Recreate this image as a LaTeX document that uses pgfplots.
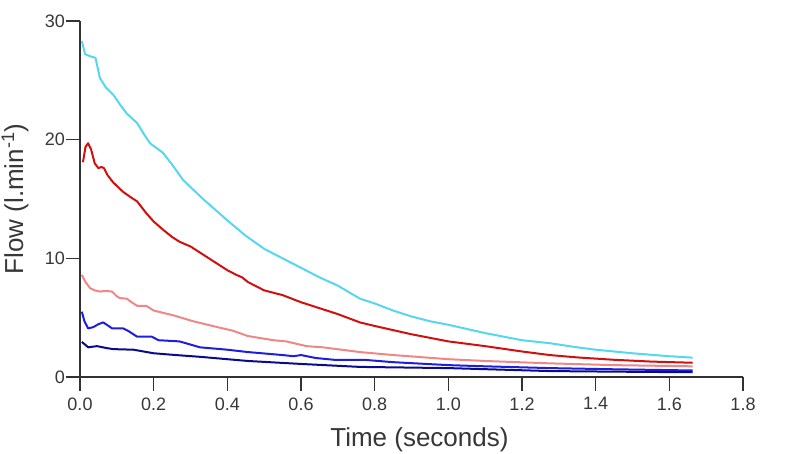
\documentclass[border=0pt]{standalone}
\usepackage{fontspec}
\setmainfont{Liberation Sans}
\usepackage{pgfplots}
\pgfplotsset{compat=1.18}
\definecolor{ccyan}{RGB}{85,215,240}
\definecolor{cred}{RGB}{210,15,15}
\definecolor{cpink}{RGB}{240,135,135}
\definecolor{cblue}{RGB}{30,30,220}
\definecolor{cnavy}{RGB}{10,10,140}
\definecolor{axgray}{RGB}{50,50,50}
\definecolor{txtgray}{RGB}{55,55,55}
\begin{document}
\begin{tikzpicture}[x=1pt,y=1pt]
\useasboundingbox (0,0) rectangle (786,454);
\begin{axis}[
  at={(80pt,77pt)}, anchor=south west,
  scale only axis, width=663pt, height=356pt,
  xmin=0, xmax=1.8, ymin=0, ymax=30,
  axis x line*=bottom, axis y line*=left,
  axis line style={draw=axgray, line width=1.4pt, -},
  tick style={draw=axgray, line width=1.4pt},
  tick align=outside, major tick length=14pt,
  xtick={0,0.2,0.4,0.6,0.8,1.0,1.2,1.4,1.6,1.8},
  ytick={0,10,20,30},
  minor tick num=0,
  /pgf/number format/assume math mode=true,
  xticklabel style={/pgf/number format/.cd, fixed, fixed zerofill, precision=1, /tikz/.cd, font=\fontsize{18}{18}\selectfont, text=txtgray, yshift=-3pt},
  yticklabel style={font=\fontsize{18}{18}\selectfont, text=txtgray, inner sep=1pt},
  xlabel={Time (seconds)},
  ylabel={Flow (l.min\textsuperscript{-1})},
  xlabel style={at={(axis description cs:0.512,-0.177)}, anchor=center, font=\fontsize{26}{26}\selectfont, text=txtgray},
  ylabel style={at={(axis description cs:-0.098,0.5)}, anchor=center, rotate=0, font=\fontsize{26}{26}\selectfont, text=txtgray},
  every axis plot/.append style={line width=2pt, line join=round},
]
\addplot[ccyan] coordinates {(0.005,28.3) (0.014,27.2) (0.03,27.0) (0.042,26.9) (0.054,25.2) (0.07,24.4) (0.09,23.8) (0.11,22.9) (0.127,22.2) (0.155,21.4) (0.175,20.4) (0.19,19.7) (0.225,18.9) (0.25,17.9) (0.28,16.6) (0.334,15.0) (0.4,13.2) (0.45,11.9) (0.5,10.8) (0.55,10.0) (0.6,9.2) (0.65,8.4) (0.7,7.7) (0.76,6.6) (0.8,6.2) (0.85,5.6) (0.9,5.1) (0.95,4.7) (1.0,4.4) (1.1,3.7) (1.2,3.1) (1.275,2.85) (1.35,2.5) (1.4,2.3) (1.5,2.0) (1.6,1.75) (1.663,1.63)};
\addplot[cred] coordinates {(0.008,18.1) (0.015,19.4) (0.022,19.7) (0.03,19.2) (0.04,18.0) (0.05,17.6) (0.058,17.7) (0.065,17.6) (0.075,17.0) (0.09,16.4) (0.117,15.6) (0.14,15.1) (0.155,14.8) (0.18,13.8) (0.2,13.1) (0.226,12.4) (0.25,11.8) (0.27,11.4) (0.3,11.0) (0.33,10.4) (0.37,9.6) (0.4,9.0) (0.425,8.6) (0.44,8.4) (0.456,8.0) (0.5,7.3) (0.55,6.9) (0.6,6.3) (0.7,5.3) (0.76,4.6) (0.8,4.3) (0.9,3.6) (1.0,3.0) (1.05,2.8) (1.1,2.6) (1.2,2.15) (1.275,1.85) (1.35,1.65) (1.45,1.45) (1.55,1.3) (1.663,1.2)};
\addplot[cpink] coordinates {(0.005,8.6) (0.015,8.0) (0.027,7.5) (0.04,7.3) (0.054,7.2) (0.07,7.25) (0.087,7.2) (0.1,6.8) (0.108,6.65) (0.127,6.6) (0.14,6.3) (0.155,6.0) (0.18,6.0) (0.2,5.6) (0.253,5.2) (0.307,4.7) (0.36,4.3) (0.415,3.9) (0.456,3.45) (0.525,3.1) (0.56,3.0) (0.615,2.6) (0.66,2.5) (0.76,2.1) (0.85,1.85) (1.0,1.5) (1.1,1.35) (1.275,1.15) (1.45,1.0) (1.663,0.9)};
\addplot[cblue] coordinates {(0.005,5.5) (0.012,4.7) (0.022,4.1) (0.036,4.2) (0.05,4.45) (0.063,4.6) (0.073,4.4) (0.087,4.1) (0.117,4.1) (0.13,3.9) (0.14,3.7) (0.155,3.4) (0.195,3.4) (0.213,3.1) (0.27,3.0) (0.326,2.5) (0.4,2.3) (0.456,2.1) (0.55,1.85) (0.58,1.75) (0.6,1.85) (0.64,1.6) (0.69,1.45) (0.77,1.45) (0.85,1.25) (1.0,1.0) (1.1,0.9) (1.275,0.75) (1.45,0.65) (1.663,0.55)};
\addplot[cnavy] coordinates {(0.005,2.95) (0.015,2.7) (0.022,2.5) (0.046,2.6) (0.07,2.45) (0.09,2.35) (0.145,2.3) (0.2,2.0) (0.26,1.85) (0.326,1.7) (0.4,1.5) (0.456,1.35) (0.6,1.1) (0.76,0.85) (1.0,0.75) (1.275,0.5) (1.45,0.45) (1.663,0.4)};
\end{axis}
\end{tikzpicture}
\end{document}
